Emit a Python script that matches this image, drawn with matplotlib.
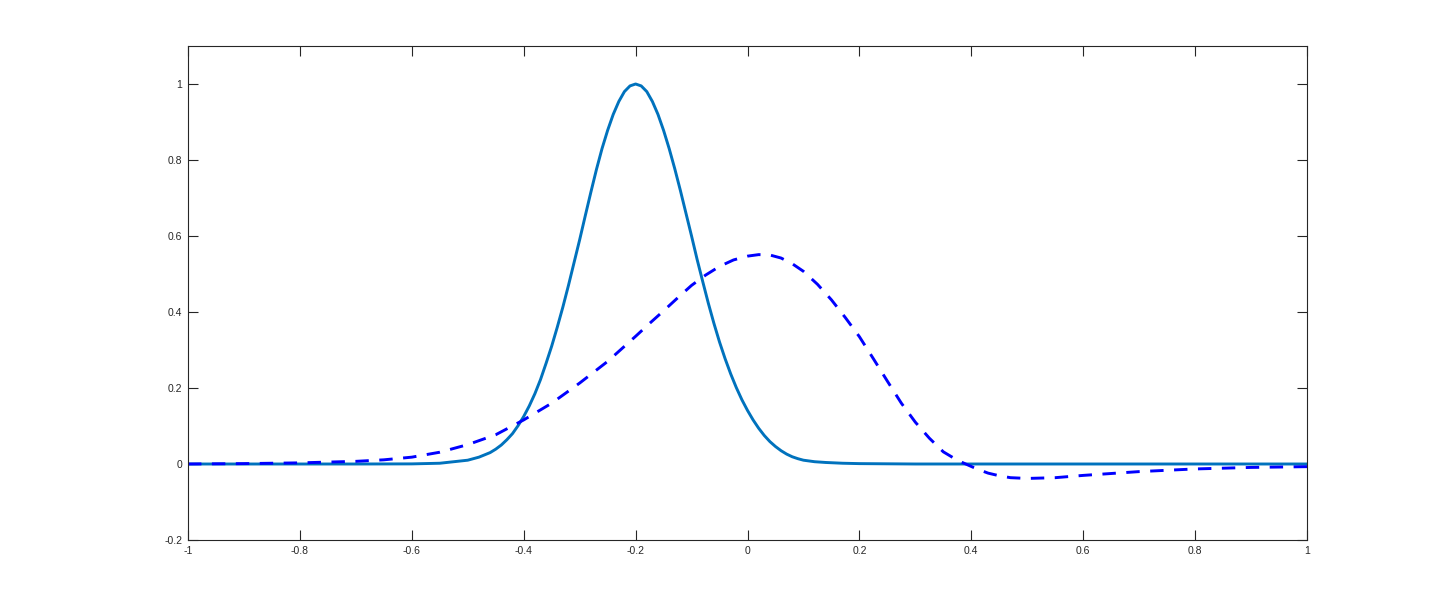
import matplotlib
matplotlib.use("Agg")
import matplotlib.pyplot as plt

# solid curve (pulse around x = -0.2)
x_solid = [-1.00, -0.70, -0.60, -0.55,
           -0.50, -0.49, -0.48, -0.47, -0.46, -0.45, -0.44, -0.43, -0.42, -0.41,
           -0.40, -0.39, -0.38, -0.37, -0.36, -0.35, -0.34, -0.33, -0.32, -0.31,
           -0.30, -0.29, -0.28, -0.27, -0.26, -0.25, -0.24, -0.23, -0.22, -0.21,
           -0.20, -0.19, -0.18, -0.17, -0.16, -0.15, -0.14, -0.13, -0.12, -0.11,
           -0.10, -0.09, -0.08, -0.07, -0.06, -0.05, -0.04, -0.03, -0.02, -0.01,
           0.00, 0.01, 0.02, 0.03, 0.04, 0.05, 0.06, 0.07, 0.08, 0.09,
           0.10, 0.12, 0.14, 0.17, 0.20, 0.30, 1.00]
y_solid = [0.000, 0.000, 0.0003, 0.002,
           0.010, 0.014, 0.018, 0.024, 0.030, 0.039, 0.050, 0.064, 0.080, 0.101,
           0.125, 0.153, 0.185, 0.222, 0.265, 0.310, 0.360, 0.413, 0.470, 0.530,
           0.590, 0.653, 0.715, 0.775, 0.830, 0.878, 0.920, 0.954, 0.980, 0.995,
           1.000, 0.995, 0.980, 0.954, 0.920, 0.878, 0.830, 0.777, 0.720, 0.660,
           0.600, 0.538, 0.480, 0.423, 0.370, 0.321, 0.277, 0.237, 0.201, 0.169,
           0.141, 0.116, 0.094, 0.075, 0.059, 0.046, 0.035, 0.026, 0.019, 0.014,
           0.010, 0.006, 0.004, 0.002, 0.001, 0.000, 0.000]

# dashed curve
x_dash = [-1.00, -0.90, -0.80, -0.70, -0.65, -0.60, -0.55, -0.50, -0.45, -0.40,
          -0.35, -0.30, -0.25, -0.20, -0.175, -0.15, -0.125, -0.10, -0.075, -0.05,
          -0.025, 0.00, 0.02, 0.04, 0.06, 0.08, 0.10, 0.125, 0.15, 0.175,
          0.20, 0.225, 0.25, 0.275, 0.30, 0.325, 0.35, 0.375, 0.39, 0.41,
          0.43, 0.45, 0.47, 0.50, 0.55, 0.60, 0.70, 0.80, 0.90, 1.00]
y_dash = [0.000, 0.001, 0.003, 0.007, 0.011, 0.018, 0.031, 0.051, 0.077, 0.116,
          0.160, 0.213, 0.270, 0.336, 0.370, 0.403, 0.437, 0.470, 0.497, 0.520,
          0.537, 0.547, 0.551, 0.550, 0.542, 0.527, 0.507, 0.473, 0.432, 0.385,
          0.335, 0.277, 0.218, 0.160, 0.110, 0.068, 0.032, 0.010, 0.000, -0.013,
          -0.024, -0.031, -0.036, -0.038, -0.036, -0.030, -0.020, -0.013, -0.009, -0.007]

x_ticks = [-1, -0.8, -0.6, -0.4, -0.2, 0, 0.2, 0.4, 0.6, 0.8, 1]
y_ticks = [-0.2, 0, 0.2, 0.4, 0.6, 0.8, 1]

plt.rcParams['font.family'] = ['Liberation Sans', 'DejaVu Sans']

fig = plt.figure(figsize=(14.45, 6.07), dpi=100)
ax = fig.add_axes([188 / 1445, 67 / 607, 1119 / 1445, 494 / 607])

ax.plot(x_solid, y_solid, color='#0072BD', lw=2.1)
ax.plot(x_dash, y_dash, color='#0000FF', lw=2.1, ls=(0, (4.6, 3.6)))

ax.set_xlim(-1, 1)
ax.set_ylim(-0.2, 1.1)
ax.set_xticks(x_ticks)
ax.set_yticks(y_ticks)
ax.set_xticklabels([f"{v:g}" for v in x_ticks])
ax.set_yticklabels([f"{v:g}" for v in y_ticks])

ax.tick_params(direction='in', length=7, width=0.8, colors='#262626',
               labelsize=7.5, top=True, right=True, pad=4)
for s in ax.spines.values():
    s.set_color('#262626')
    s.set_linewidth(0.8)

fig.savefig("out.png", dpi=100)
